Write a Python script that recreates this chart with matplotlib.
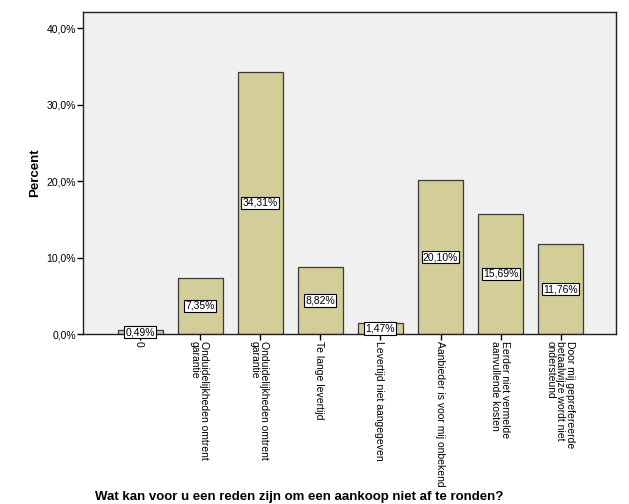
import matplotlib
matplotlib.use("Agg")
import matplotlib.pyplot as plt
from matplotlib.ticker import FuncFormatter, MultipleLocator

categories = [
    "0",
    "Onduidelijkheden omtrent\ngarantie",
    "Onduidelijkheden omtrent\ngarantie",
    "Te lange levertijd",
    "Levertijd niet aangegeven",
    "Aanbieder is voor mij onbekend",
    "Eerder niet vermelde\naanvullende kosten",
    "Door mij geprefereerde\nbetaalwijze wordt niet\nondersteund",
]
values = [0.49, 7.35, 34.31, 8.82, 1.47, 20.10, 15.69, 11.76]
value_labels = ["0,49%", "7,35%", "34,31%", "8,82%", "1,47%", "20,10%", "15,69%", "11,76%"]
xtitle = "Wat kan voor u een reden zijn om een aankoop niet af te ronden?"

plt.rcParams['font.family'] = ['Liberation Sans', 'DejaVu Sans']

W, H = 629, 504
fig = plt.figure(figsize=(W / 100, H / 100), dpi=100)
left, right, top, bottom = 83, 616, 12, 334
ax = fig.add_axes([left / W, 1 - bottom / H, (right - left) / W, (bottom - top) / H])
ax.set_facecolor('#f0f0f0')

x = list(range(len(values)))
ax.bar(x, values, width=0.75, color='#d3ce98', edgecolor='#3a3a3a', linewidth=0.9, zorder=2)

for xi, v, lab in zip(x, values, value_labels):
    ax.text(xi, v / 2, lab, ha='center', va='center', fontsize=7.5, zorder=4,
            bbox=dict(boxstyle='square,pad=0.12', facecolor='white', edgecolor='black', linewidth=0.8))

ax.set_xlim(-0.95, 7.92)
ax.set_ylim(0, 42.1)
ax.yaxis.set_major_locator(MultipleLocator(10))
ax.yaxis.set_major_formatter(FuncFormatter(lambda v, p: f"{v:.1f}%".replace('.', ',')))
ax.tick_params(axis='y', labelsize=7.5, length=4, width=1, pad=1)
ax.tick_params(axis='x', labelsize=7.5, length=4, width=1, pad=1)

ax.set_xticks(x)
ax.set_xticklabels(categories, rotation=270, rotation_mode='anchor', ha='left',
                   va='center_baseline', linespacing=0.95)

for s in ax.spines.values():
    s.set_color('#202020')
    s.set_linewidth(1.0)

ax.set_ylabel('Percent', fontsize=9.5, fontweight='bold', labelpad=4)

fig.text(95 / W, 1 - 503 / H, xtitle, fontsize=9.5, fontweight='bold', ha='left', va='bottom')

fig.savefig('out.png', dpi=100, facecolor='white')
